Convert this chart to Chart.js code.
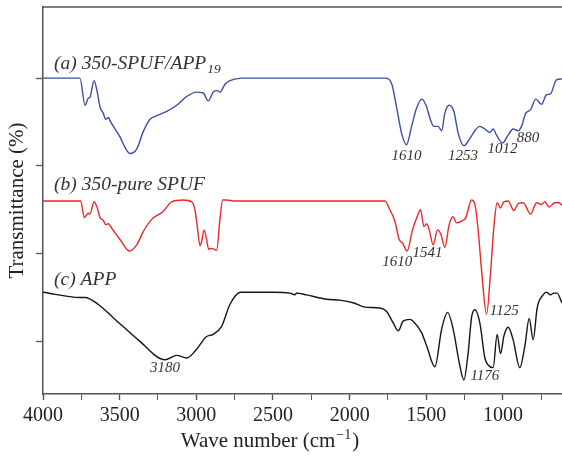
<!DOCTYPE html>
<html>
<head>
<meta charset="utf-8">
<title>FTIR spectra</title>
<script src="https://cdn.jsdelivr.net/npm/chart.js"></script>
<style>
  body{ margin:0; background:#fff; }
  #wrap{ width:562px; height:465px; }
</style>
</head>
<body>
<div id="wrap"><canvas id="ftir"></canvas></div>
<script>
// wave number (cm-1) and transmittance (offset curves, arbitrary units)
const wnA = [4000,3759,3726,3705,3694,3667,3646,3628,3607,3591,3574,3559,3498,3465,3433,3389,3346,3302,3259,3193,3128,3063,2998,2955,2922,2890,2867,2846,2813,2781,2703,
  1770,1727,1694,1661,1629,1596,1563,1527,1498,1472,1451,1423,1400,1379,1351,1320,1292,1255,1216,1183,1151,1118,1086,1064,1042,1003,966,934,901,879,851,820,786,749,716,690,651,616];
const tA = [4.00,4.00,3.69,3.77,3.78,3.97,3.84,3.67,3.60,3.53,3.55,3.50,3.33,3.21,3.14,3.19,3.39,3.53,3.57,3.62,3.69,3.79,3.84,3.83,3.74,3.84,3.86,3.84,3.93,3.97,4.00,
  4.00,3.94,3.67,3.37,3.24,3.45,3.66,3.76,3.67,3.52,3.45,3.45,3.40,3.60,3.69,3.62,3.37,3.23,3.31,3.40,3.45,3.42,3.38,3.42,3.35,3.26,3.35,3.42,3.40,3.45,3.60,3.64,3.76,3.70,3.81,3.82,3.98,3.99];

const wnB = [4000,3754,3731,3705,3694,3667,3646,3628,3607,3591,3574,3552,3498,3437,3389,3346,3291,3216,3161,3085,3030,3009,2994,2976,2965,2950,2933,2920,2900,2885,2867,2846,2828,2802,2759,
  1770,1738,1705,1677,1655,1625,1590,1560,1537,1516,1498,1481,1455,1427,1405,1379,1351,1325,1303,1270,1242,1205,1183,1162,1140,1107,1081,1059,1038,1016,994,966,929,901,868,820,781,749,727,699,662,634,616];
const tB = [2.60,2.60,2.41,2.46,2.45,2.59,2.52,2.41,2.38,2.33,2.34,2.29,2.16,2.03,2.10,2.25,2.39,2.48,2.59,2.61,2.59,2.50,2.31,2.09,2.14,2.27,2.16,2.05,2.06,2.05,2.04,2.39,2.61,2.61,2.60,
  2.60,2.50,2.37,2.16,2.12,2.03,2.27,2.42,2.50,2.31,2.34,2.27,2.10,2.27,2.22,2.07,2.33,2.42,2.35,2.37,2.41,2.61,2.56,2.27,1.82,1.31,1.78,2.31,2.58,2.52,2.59,2.60,2.49,2.57,2.58,2.45,2.58,2.56,2.59,2.53,2.58,2.58,2.55];

const wnC = [4000,3759,3726,3639,3542,3368,3205,3128,3063,2998,2937,2890,2835,2781,2711,2498,2390,2357,2346,2281,2150,2064,1977,1901,1803,1759,1716,1683,1651,1607,1586,1531,1498,1444,1400,1361,1325,1281,1255,1227,1205,1183,1151,1118,1097,1064,1038,1016,994,966,934,890,857,829,803,777,738,716,690,668,647,616];
const tC = [1.56,1.50,1.50,1.42,1.27,1.00,0.79,0.84,0.81,0.91,1.05,1.08,1.17,1.42,1.56,1.56,1.55,1.53,1.55,1.53,1.48,1.47,1.44,1.39,1.38,1.34,1.21,1.12,1.23,1.25,1.23,1.10,0.95,0.71,1.14,1.33,1.14,0.72,0.56,0.87,1.27,1.36,1.21,0.81,0.73,0.70,1.08,0.86,1.06,1.16,1.02,0.70,0.95,1.26,1.02,1.38,1.53,1.56,1.53,1.55,1.55,1.44];

const xTicks = [750,1000,1250,1500,1750,2000,2250,2500,2750,3000,3250,3500,3750,4000];
const yTicks = [1,2,3,4];

// peak labels: text, wave number, transmittance
const peakText = ['1610','1253','1012','880','1610','1541','1125','3180','1176'];
const peakWn   = [1629,1260,1003,836,1690,1492,992,3205,1118];
const peakT    = [3.11,3.11,3.19,3.32,1.90,2.01,1.34,0.70,0.61];

const serif = '"Liberation Serif", "DejaVu Serif", serif';

function toPoints(xs, ys){
  return xs.map(function(x, i){ return {x: x, y: ys[i]}; });
}

const labelPlugin = {
  id: 'labels',
  afterDraw: function(chart){
    const ctx = chart.ctx;
    const a = chart.chartArea;
    const xs = chart.scales.x, ys = chart.scales.y;
    ctx.save();
    // top frame line
    ctx.strokeStyle = '#555';
    ctx.lineWidth = 1.5;
    ctx.beginPath();
    ctx.moveTo(a.left, a.top);
    ctx.lineTo(a.right, a.top);
    ctx.stroke();

    ctx.fillStyle = '#333';
    ctx.textBaseline = 'alphabetic';
    ctx.textAlign = 'left';

    // series names
    let x0 = xs.getPixelForValue(3928);
    ctx.font = 'italic 19.5px ' + serif;
    let y = ys.getPixelForValue(4.10);
    ctx.fillText('(a) 350-SPUF/APP', x0, y);
    let w = ctx.measureText('(a) 350-SPUF/APP').width;
    ctx.font = 'italic 13.5px ' + serif;
    ctx.fillText('19', x0 + w + 1, y + 4);
    ctx.font = 'italic 19.5px ' + serif;
    ctx.fillText('(b) 350-pure SPUF', x0, ys.getPixelForValue(2.72));
    ctx.fillText('(c) APP', x0, ys.getPixelForValue(1.64));

    // peak labels
    ctx.font = 'italic 15px ' + serif;
    ctx.textAlign = 'center';
    ctx.textBaseline = 'middle';
    peakText.forEach(function(t, i){
      ctx.fillText(t, xs.getPixelForValue(peakWn[i]), ys.getPixelForValue(peakT[i]));
    });

    // x axis title with superscript
    ctx.fillStyle = '#222';
    ctx.textBaseline = 'alphabetic';
    ctx.textAlign = 'left';
    const p1 = 'Wave number (cm', sup = '\u22121', p2 = ')';
    ctx.font = '21px ' + serif;
    const w1 = ctx.measureText(p1).width, w3 = ctx.measureText(p2).width;
    ctx.font = '14px ' + serif;
    const w2 = ctx.measureText(sup).width;
    let sx = 270 - (w1 + w2 + w3 + 2) / 2;
    ctx.font = '21px ' + serif;
    ctx.fillText(p1, sx, 447);
    ctx.font = '14px ' + serif;
    ctx.fillText(sup, sx + w1 + 1, 439);
    ctx.font = '21px ' + serif;
    ctx.fillText(p2, sx + w1 + w2 + 2, 447);
    ctx.restore();
  }
};

new Chart(document.getElementById('ftir'), {
  type: 'line',
  data: {
    datasets: [
      { label: 'a', data: toPoints(wnA, tA), borderColor: '#3a4ea6' },
      { label: 'b', data: toPoints(wnB, tB), borderColor: '#e8282b' },
      { label: 'c', data: toPoints(wnC, tC), borderColor: '#151515' }
    ]
  },
  options: {
    responsive: true,
    maintainAspectRatio: false,
    animation: false,
    devicePixelRatio: 1,
    layout: { padding: { top: 7, left: 0, right: 0, bottom: 0 }, autoPadding: false },
    elements: {
      point: { radius: 0 },
      line: { borderWidth: 1.4, cubicInterpolationMode: 'monotone', fill: false }
    },
    plugins: { legend: { display: false }, tooltip: { enabled: false } },
    scales: {
      x: {
        type: 'linear',
        reverse: true,
        min: 615,
        max: 4000,
        afterBuildTicks: function(s){ s.ticks = xTicks.map(function(v){ return {value: v}; }); },
        afterFit: function(s){ s.height = 71; },
        ticks: {
          autoSkip: false,
          maxRotation: 0,
          padding: 4,
          color: '#222',
          font: { family: serif, size: 20 },
          callback: function(v){ return v % 500 === 0 ? v : ''; }
        },
        grid: {
          drawOnChartArea: false,
          tickLength: 6,
          tickColor: '#555',
          tickWidth: function(c){ return c.tick && c.tick.value % 500 === 0 ? 1.4 : 1; }
        },
        border: { color: '#555', width: 1.5 }
      },
      y: {
        min: 0.4,
        max: 4.81,
        afterBuildTicks: function(s){ s.ticks = yTicks.map(function(v){ return {value: v}; }); },
        afterFit: function(s){ s.width = 43; },
        ticks: { display: false },
        grid: { drawOnChartArea: false, tickLength: 7, tickColor: '#555', tickWidth: 1.3 },
        border: { color: '#555', width: 1.5 },
        title: {
          display: true,
          text: 'Transmittance (%)',
          color: '#222',
          font: { family: serif, size: 21 },
          padding: { top: 5, bottom: 0 }
        }
      }
    }
  },
  plugins: [labelPlugin]
});
</script>
</body>
</html>
